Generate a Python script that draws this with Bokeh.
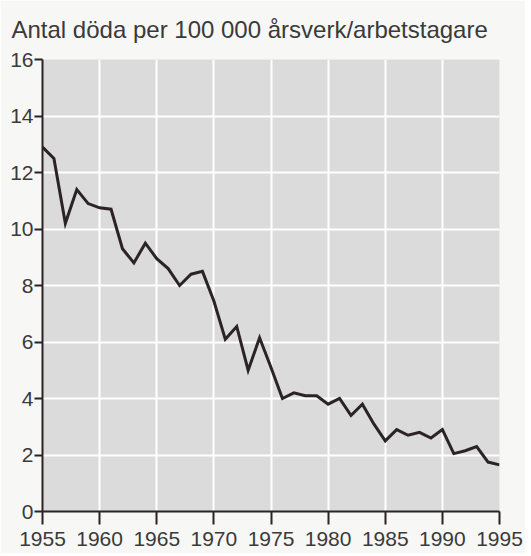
from bokeh.plotting import figure
from bokeh.embed import file_html
from bokeh.resources import INLINE
from bokeh.models import FixedTicker, Range1d

years = list(range(1955, 1996))
deaths = [12.9, 12.5, 10.2, 11.4, 10.9, 10.75, 10.7, 9.3, 8.8, 9.5,
          8.95, 8.6, 8.0, 8.4, 8.5, 7.45, 6.1, 6.55, 5.0, 6.15,
          5.1, 4.0, 4.2, 4.1, 4.1, 3.8, 4.0, 3.4, 3.8, 3.1,
          2.5, 2.9, 2.7, 2.8, 2.6, 2.9, 2.05, 2.15, 2.3, 1.75, 1.65]
x_ticks = [1955, 1960, 1965, 1970, 1975, 1980, 1985, 1990, 1995]
y_ticks = [0, 2, 4, 6, 8, 10, 12, 14, 16]
title_text = "Antal döda per 100 000 årsverk/arbetstagare"

FONT = "Liberation Sans"
TXT = "#3a3a3a"

p = figure(frame_width=457, frame_height=452, output_backend="svg",
           toolbar_location=None, x_range=Range1d(1955, 1995),
           y_range=Range1d(0, 16), title=title_text,
           min_border_left=42, min_border_right=26, min_border_bottom=42,
           min_border_top=0)
p.background_fill_color = "#dbdbdb"
p.border_fill_color = "#f7f7f5"
p.outline_line_color = None

p.title.text_font = FONT
p.title.text_font_size = "24px"
p.title.text_font_style = "normal"
p.title.text_color = TXT
p.title.align = "left"
p.title.vertical_align = "top"
p.title.offset = -31
p.title.standoff = 30
p.title.text_line_height = 1.0

p.line(years, deaths, line_color="#2b2326", line_width=3, line_join="miter")

for ax in (p.xaxis, p.yaxis):
    ax.axis_line_color = "#2b2326"
    ax.axis_line_width = 2
    ax.major_tick_line_color = "#2b2326"
    ax.major_tick_line_width = 2
    ax.minor_tick_line_color = None
    ax.major_tick_in = 0
    ax.major_label_text_font = FONT
    ax.major_label_text_font_size = "21px"
    ax.major_label_text_color = TXT

p.xaxis.ticker = FixedTicker(ticks=x_ticks)
p.yaxis.ticker = FixedTicker(ticks=y_ticks)
p.xaxis.major_tick_out = 13
p.yaxis.major_tick_out = 8
p.xaxis.major_label_standoff = 7
p.yaxis.major_label_standoff = 1

p.xgrid.ticker = FixedTicker(ticks=x_ticks)
p.ygrid.ticker = FixedTicker(ticks=y_ticks)
p.grid.grid_line_color = "white"
p.grid.grid_line_width = 2

open("out.html", "w").write(file_html(p, INLINE))
